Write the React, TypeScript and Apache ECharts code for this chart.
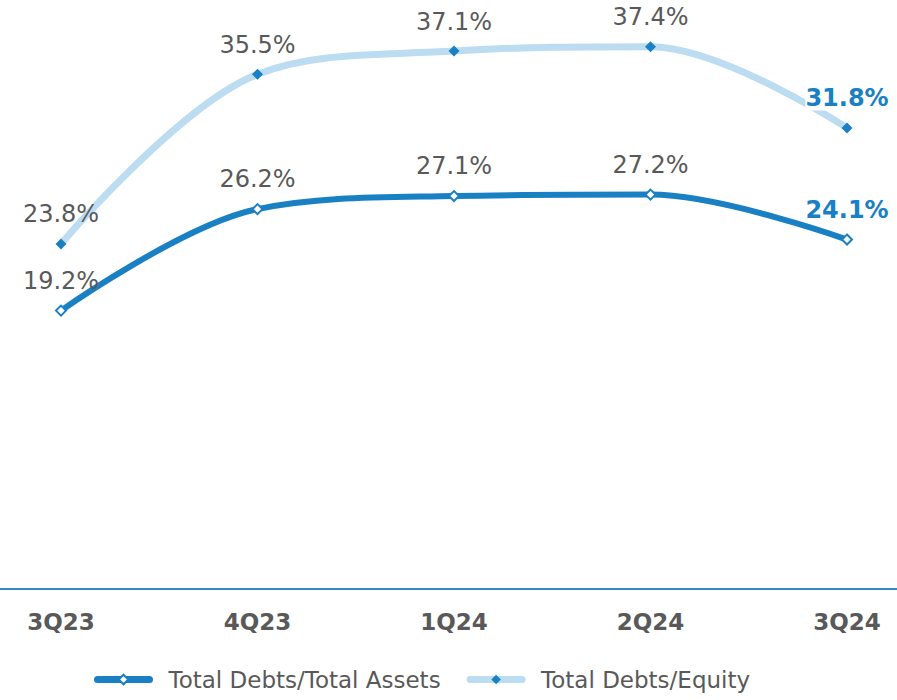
import React, { useEffect, useRef } from "react";
import * as echarts from "echarts";

const categories = ["3Q23", "4Q23", "1Q24", "2Q24", "3Q24"];
const debtsToAssets = [19.2, 26.2, 27.1, 27.2, 24.1];
const debtsToEquity = [23.8, 35.5, 37.1, 37.4, 31.8];

const DARK = "#1a80c4";
const LIGHT = "#bcdcf2";
const GRAY = "#595959";

const baseLabel = {
  show: true,
  position: "top",
  distance: 12,
  fontFamily: "DejaVu Sans",
  fontSize: 24,
  color: GRAY,
  formatter: (p: any) => p.value.toFixed(1) + "%",
} as any;

function dataWithLastLabel(values: number[]) {
  return values.map((v, i) =>
    i === values.length - 1
      ? {
          value: v,
          label: {
            color: DARK,
            fontWeight: "bold",
            backgroundColor: "#ffffff",
            padding: [2, 0, 0, 0],
          },
        }
      : v
  );
}

export default function App() {
  const ref = useRef<HTMLDivElement>(null);
  useEffect(() => {
    if (!ref.current) return;
    const chart = echarts.init(ref.current, null, { renderer: "svg" });
    chart.setOption({
      animation: false,
      grid: { left: 61, right: 50, top: 9, bottom: 111 },
      xAxis: {
        type: "category",
        data: categories,
        boundaryGap: false,
        axisLine: { show: false },
        axisTick: { show: false },
        axisLabel: {
          margin: 21,
          fontFamily: "DejaVu Sans",
          fontWeight: "bold",
          fontSize: 23,
          color: GRAY,
        },
      },
      yAxis: {
        type: "value",
        min: 0,
        max: 40,
        show: false,
        splitLine: { show: false },
      },
      legend: {
        top: 668,
        left: 94,
        padding: 0,
        itemWidth: 52,
        itemHeight: 12,
        itemGap: 26,
        lineStyle: { width: 7, cap: "round" },
        textStyle: {
          fontFamily: "DejaVu Sans",
          fontSize: 23,
          color: GRAY,
          padding: [0, 0, 0, 14],
        },
        data: ["Total Debts/Total Assets", "Total Debts/Equity"],
      },
      graphic: [
        {
          type: "line",
          shape: { x1: 0, y1: 589, x2: 897, y2: 589 },
          style: { stroke: "#2e88c9", lineWidth: 2 },
        },
      ],
      series: [
        {
          name: "Total Debts/Equity",
          type: "line",
          smooth: 0.35,
          data: dataWithLastLabel(debtsToEquity),
          symbol: "diamond",
          symbolSize: 11,
          lineStyle: { color: LIGHT, width: 7 },
          itemStyle: { color: DARK, borderColor: DARK, borderWidth: 0 },
          label: baseLabel,
          z: 2,
        },
        {
          name: "Total Debts/Total Assets",
          type: "line",
          smooth: 0.35,
          data: dataWithLastLabel(debtsToAssets),
          symbol: "diamond",
          symbolSize: 10,
          lineStyle: { color: DARK, width: 6 },
          itemStyle: { color: "#ffffff", borderColor: DARK, borderWidth: 2 },
          label: baseLabel,
          z: 3,
        },
      ],
    });
    return () => chart.dispose();
  }, []);
  return (
    <div
      ref={ref}
      style={{ position: "absolute", left: 0, top: 0, width: 897, height: 700 }}
    />
  );
}
